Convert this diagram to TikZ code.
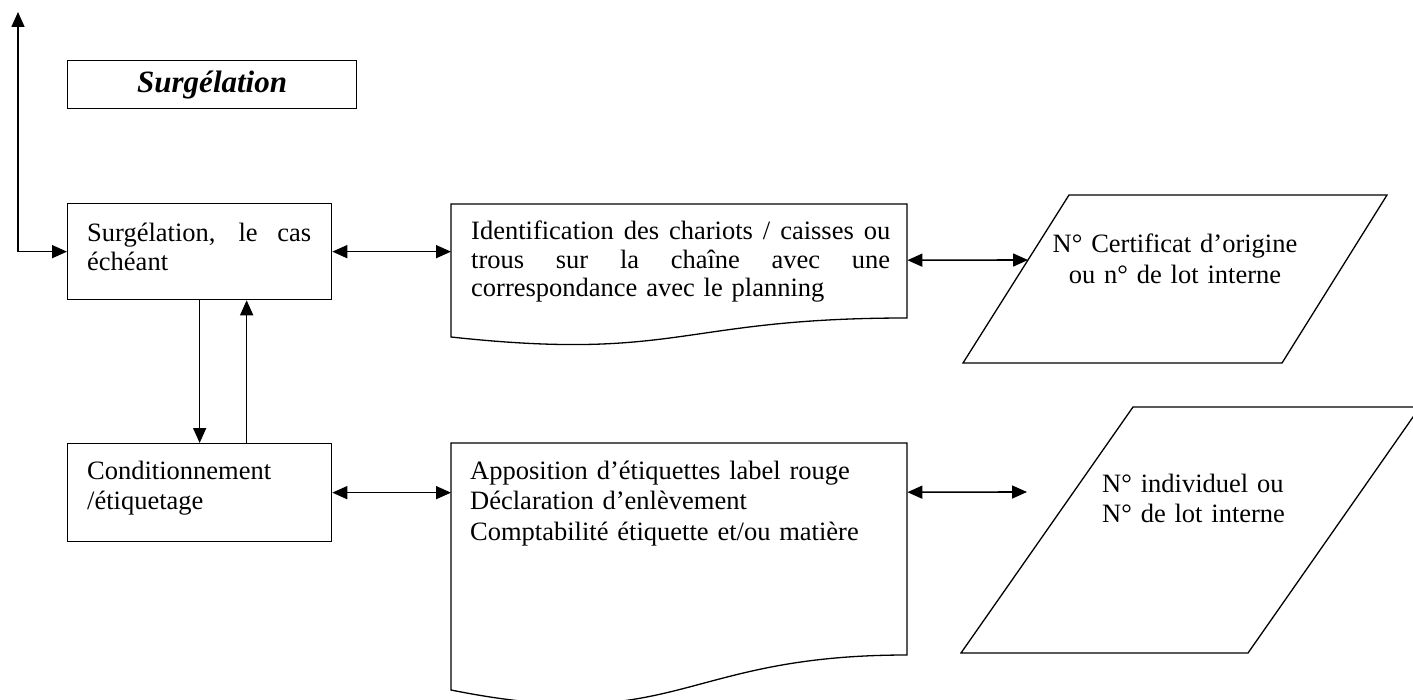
\documentclass[tikz,border=0pt]{standalone}
\usepackage{fontspec}
\setmainfont{Liberation Serif}
\usetikzlibrary{arrows.meta}
\hyphenpenalty=10000
\exhyphenpenalty=10000
\begin{document}
\begin{tikzpicture}[x=1pt,y=-1pt,
  outline/.style={draw,line width=1.3pt},
  frame/.style={outline,inner sep=0pt,anchor=north west},
  holder/.style={inner sep=0pt,anchor=north west},
  conn/.style={line width=1.6pt},
  tipA/.style={-{Triangle[length=15pt,width=13pt]}},
  tipB/.style={{Triangle[length=15pt,width=13pt]}-{Triangle[length=15pt,width=13pt]}},
  body/.style={inner sep=0pt,anchor=base west,font=\fontsize{26.5}{30.5}\selectfont},
  tight/.style={inner sep=0pt,anchor=base west,font=\fontsize{26.5}{28.5}\selectfont}]
\useasboundingbox (0,0) rectangle (1413,700);
\clip (0,0) rectangle (1413,700);

% title box
\node[frame,minimum width=289pt,minimum height=48pt,font=\fontsize{31}{36}\selectfont\bfseries\itshape] (title) at (67,60) {Surg\'elation};

% process boxes
\node[frame,minimum width=264pt,minimum height=96pt] (b1) at (67,203) {};
\node[frame,minimum width=264pt,minimum height=98pt] (b2) at (67,443) {};
\node[tight,text width=224pt,align=justify] (t1) at (87,242) {Surgélation, le cas échéant};
\node[body,text width=224pt,align=left] (t2) at (87,479) {Conditionnement\\/étiquetage};

% document shapes
\node[holder,minimum width=456pt,minimum height=112pt] (d1) at (451,204) {};
\draw[outline] (451,204) -- (907,204) -- (907,318)
  .. controls (679,318) and (679,361.7) .. (451,337) -- cycle;
\node[tight,text width=440pt,align=left] (t3) at (471,240)
  {\leavevmode\hbox to 419pt{Identification\hfill des\hfill chariots\hfill /\hfill caisses\hfill ou}\\
   \leavevmode\hbox to 419pt{trous\hfill sur\hfill la\hfill chaîne\hfill avec\hfill une}\\
   correspondance avec le planning};

\node[holder,minimum width=456pt,minimum height=98pt] (d2) at (451,443) {};
\draw[outline] (451,443) -- (907,443) -- (907,655)
  .. controls (679,655) and (679,735.8) .. (451,690) -- cycle;
\node[body,text width=430pt,align=left] (t4) at (470,479)
  {Apposition d’étiquettes label rouge\\Déclaration d’enlèvement\\Comptabilité étiquette et/ou matière};

% parallelograms
\draw[outline] (963,363) -- (1069,195) -- (1387,195) -- (1282,363) -- cycle;
\draw[outline] (961,653) -- (1133,407) -- (1420,407) -- (1248,653) -- cycle;
\coordinate (p1w) at (1028,260);
\coordinate (p2w) at (1027,492);
\node[body,anchor=base,text width=300pt,align=center] (t5) at (1175,253)
  {N° Certificat d’origine\\ou n° de lot interne};
\node[body,text width=200pt,align=left] (t6) at (1102,492)
  {N° individuel ou\\N° de lot interne};

% connectors
\coordinate (topend) at (18,12);
\draw[conn,tipB] (topend) |- (b1.west);
\draw[conn,tipB] (b1.east) -- (b1.east -| d1.west);
\draw[conn,tipB] (d1.east) -- (p1w);
\draw[conn,tipB] (b2.east) -- (b2.east -| d2.west);
\draw[conn,tipB] (d2.east) -- (p2w);
\draw[conn,tipA] (b1.south) -- (b2.north);
\draw[conn,tipA] ([xshift=47pt]b2.north) -- ([xshift=47pt]b1.south);
\end{tikzpicture}
\end{document}
